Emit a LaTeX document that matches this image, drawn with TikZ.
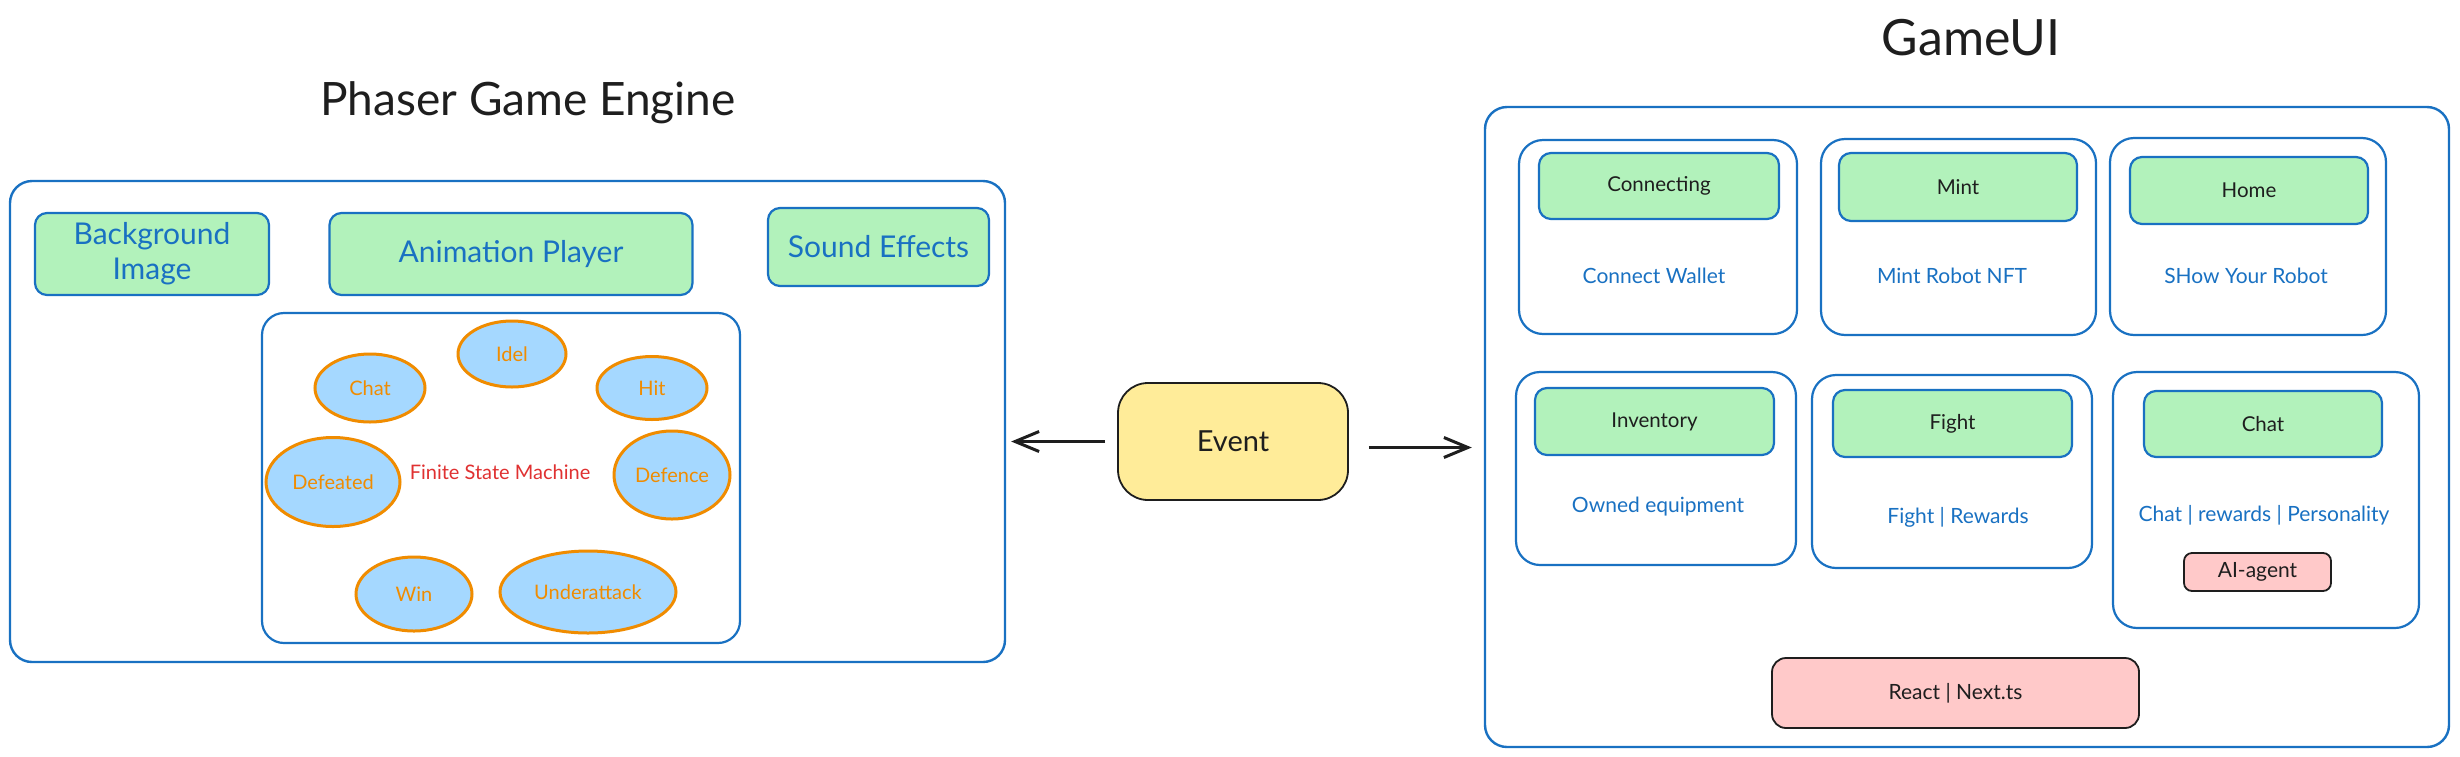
\documentclass[tikz,border=0pt]{standalone}
\usepackage{fontspec}
\setmainfont{Lato}
\usetikzlibrary{arrows.meta,shapes.geometric}
\definecolor{eblue}{HTML}{1971C2}
\definecolor{egreen}{HTML}{B2F2BB}
\definecolor{eorange}{HTML}{F08C00}
\definecolor{elblue}{HTML}{A5D8FF}
\definecolor{epink}{HTML}{FFC9C9}
\definecolor{eyellow}{HTML}{FFEC99}
\definecolor{ered}{HTML}{E03131}
\definecolor{edark}{HTML}{1E1E1E}
\begin{document}
\begin{tikzpicture}[x=1pt,y=-1pt,
  panel/.style={draw=eblue, line width=2.4pt, rounded corners=22pt, inner sep=0pt},
  cell/.style={draw=eblue, line width=2.2pt, rounded corners=24pt, inner sep=0pt},
  gbox/.style={draw=eblue, fill=egreen, line width=2.2pt, rounded corners=12pt, inner sep=0pt, align=center},
  gleft/.style={gbox, text=eblue, font=\fontsize{30}{35}\selectfont},
  gright/.style={gbox, text=edark, font=\fontsize{20.5}{24}\selectfont},
  desc/.style={text=eblue, font=\fontsize{21}{25}\selectfont, inner sep=0pt},
  pbox/.style={draw=edark, fill=epink, line width=1.8pt, rounded corners=10pt, inner sep=0pt, text=edark, font=\fontsize{21}{25}\selectfont},
  state/.style={ellipse, draw=eorange, fill=elblue, line width=3pt, text=eorange, font=\fontsize{20}{24}\selectfont, inner sep=0pt},
  title/.style={text=edark, font=\fontsize{46}{52}\selectfont, inner sep=0pt},
  arr/.style={draw=edark, line width=3pt, -{Straight Barb[length=24pt,width=20pt,line width=3pt]}}
]
\useasboundingbox[fill=white] (0,0) rectangle (2460,756);

% ---------------- Phaser Game Engine ----------------
\node[title] (ptitle) at (528,103) {Phaser Game Engine};
\node[panel, minimum width=995pt, minimum height=481pt] (phaser) at (507.5,421.5) {};
\node[gleft, minimum width=234pt, minimum height=82pt] (bg) at (152,254) {Background\\Image};
\node[gleft, minimum width=363pt, minimum height=82pt] (anim) at (511,254) {Animation Player};
\node[gleft, minimum width=221pt, minimum height=78pt] (sound) at (878.5,247) {Sound Effects};
\node[panel, line width=2.2pt, minimum width=478pt, minimum height=330pt] (fsm) at (501,478) {};
\node[state, minimum width=108pt, minimum height=66pt] (idel) at (512,354) {Idel};
\node[state, minimum width=110pt, minimum height=68pt] (chat) at (370,388) {Chat};
\node[state, minimum width=110pt, minimum height=63pt] (hit) at (652,388) {Hit};
\node[state, minimum width=134pt, minimum height=89pt] (defeated) at (333,482) {Defeated};
\node[state, minimum width=116pt, minimum height=88pt] (defence) at (672,475) {Defence};
\node[state, minimum width=116pt, minimum height=74pt] (win) at (414,594) {Win};
\node[state, minimum width=176pt, minimum height=82pt] (under) at (588,592) {Underattack};
\node[text=ered, font=\fontsize{20}{24}\selectfont, inner sep=0pt] (fsmlabel) at (500,472) {Finite State Machine};

% ---------------- Event ----------------
\node[draw=edark, fill=eyellow, line width=1.8pt, rounded corners=30pt, minimum width=230pt, minimum height=117pt, inner sep=0pt, text=edark, font=\fontsize{29}{33}\selectfont] (event) at (1233,441.5) {Event};

% ---------------- GameUI ----------------
\node[title, font=\fontsize{50}{56}\selectfont] (gtitle) at (1971,38) {GameUI};
\node[panel, minimum width=964pt, minimum height=640pt] (gameui) at (1967,427) {};

% row 1
\node[cell, minimum width=278pt, minimum height=194pt] (c1) at (1658,237) {};
\node[gright, minimum width=240pt, minimum height=66pt] (connecting) at (1659,186) {Connecting};
\node[desc] (d1) at (1654,276) {Connect Wallet};

\node[cell, minimum width=275pt, minimum height=196pt] (c2) at (1958.5,237) {};
\node[gright, minimum width=238pt, minimum height=68pt] (mint) at (1958,187) {Mint};
\node[desc] (d2) at (1952,276) {Mint Robot NFT};

\node[cell, minimum width=276pt, minimum height=197pt] (c3) at (2248,236.5) {};
\node[gright, minimum width=238pt, minimum height=67pt] (home) at (2249,190.5) {Home};
\node[desc] (d3) at (2246,276) {SHow Your Robot};

% row 2
\node[cell, minimum width=280pt, minimum height=193pt] (c4) at (1656,468.5) {};
\node[gright, minimum width=239pt, minimum height=67pt] (inventory) at (1654.5,421.5) {Inventory};
\node[desc] (d4) at (1658,506.5) {Owned equipment};

\node[cell, minimum width=280pt, minimum height=193pt] (c5) at (1952,471.5) {};
\node[gright, minimum width=239pt, minimum height=67pt] (fight) at (1952.5,423.5) {Fight};
\node[desc] (d5) at (1958,517.5) {Fight | Rewards};

\node[cell, minimum width=306pt, minimum height=256pt] (c6) at (2266,500) {};
\node[gright, minimum width=238pt, minimum height=66pt] (chatui) at (2263,424) {Chat};
\node[desc] (d6) at (2264,515) {Chat | rewards | Personality};
\node[pbox, minimum width=147pt, minimum height=38pt, rounded corners=8pt] (agent) at (2257.5,572) {AI-agent};

\node[pbox, minimum width=367pt, minimum height=70pt, rounded corners=14pt] (react) at (1955.5,693) {React | Next.ts};

% ---------------- connectors ----------------
\draw[arr, shorten <=12pt, shorten >=5pt] (event.west) -- (event.west -| phaser.east);
\draw[arr, shorten <=20pt, shorten >=12pt] ([yshift=-6pt]event.east) -- ([yshift=-6pt]event.east -| gameui.west);
\end{tikzpicture}
\end{document}
